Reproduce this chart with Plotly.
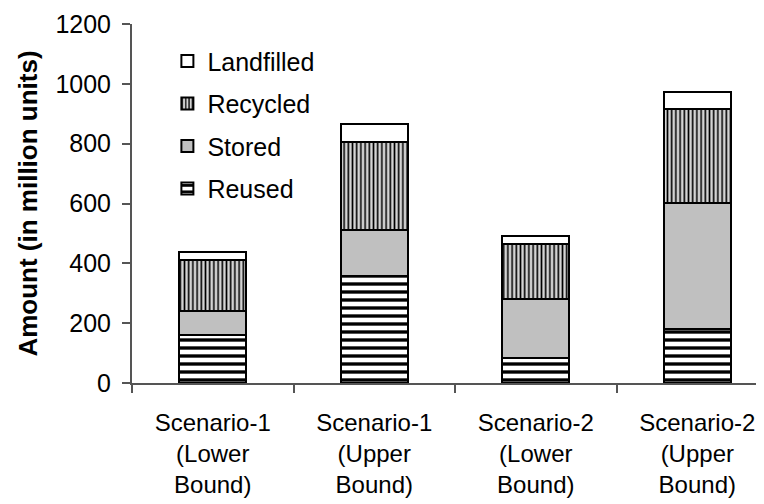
import plotly.graph_objects as go

categories = ["Scenario-1<br>(Lower<br>Bound)", "Scenario-1<br>(Upper<br>Bound)",
              "Scenario-2<br>(Lower<br>Bound)", "Scenario-2<br>(Upper<br>Bound)"]
reused = [162, 358, 85, 182]
stored = [80, 153, 197, 420]
recycled = [168, 293, 184, 315]
landfilled = [27, 62, 27, 55]
y_ticks = [0, 200, 400, 600, 800, 1000, 1200]

FONT = "Liberation Sans, Arial, sans-serif"
LINE = dict(color="black", width=2)

fig = go.Figure()
fig.add_bar(x=categories, y=reused, name="Reused", legendgroup="a", legendrank=4,
            marker=dict(color="white", line=LINE,
                        pattern=dict(shape="-", fgcolor="black", bgcolor="white",
                                     size=8, solidity=0.42, fillmode="replace")))
fig.add_bar(x=categories, y=stored, name="Stored", legendgroup="b", legendrank=3,
            marker=dict(color="#c0c0c0", line=LINE))
fig.add_bar(x=categories, y=recycled, name="Recycled", legendgroup="c", legendrank=2,
            marker=dict(color="#d0d0d0", line=LINE,
                        pattern=dict(shape="|", fgcolor="black", bgcolor="#d4d4d4",
                                     size=4.2, solidity=0.38, fillmode="replace")))
fig.add_bar(x=categories, y=landfilled, name="Landfilled", legendgroup="d", legendrank=1,
            marker=dict(color="white", line=LINE))

fig.update_layout(
    width=756, height=496,
    barmode="stack", bargap=0.585,
    paper_bgcolor="white", plot_bgcolor="white",
    margin=dict(l=124, r=0, t=16, b=120.5),
    font=dict(family=FONT, color="black", size=24),
    legend=dict(x=0.056, y=0.96, xanchor="left", yanchor="top",
                traceorder="grouped", tracegroupgap=7,
                font=dict(size=25, family=FONT), bgcolor="rgba(0,0,0,0)"),
    showlegend=True,
)
fig.update_xaxes(
    range=[-0.5, 3.413], showline=True, linecolor="#555555", linewidth=2,
    ticks="outside", tickson="boundaries", ticklen=8, tickcolor="#555555", tickwidth=2,
    tickfont=dict(size=24), showgrid=False, ticklabelstandoff=17,
)
fig.update_yaxes(
    range=[0, 1200], tickvals=y_ticks, showline=True, linecolor="#555555", linewidth=2,
    ticks="outside", ticklen=8, tickcolor="#555555", tickwidth=2,
    tickfont=dict(size=25), showgrid=False, zeroline=False, ticklabelstandoff=6,
    title=dict(text="<b>Amount (in million units)</b>", font=dict(size=26), standoff=10),
)

fig.write_html("out.html")
